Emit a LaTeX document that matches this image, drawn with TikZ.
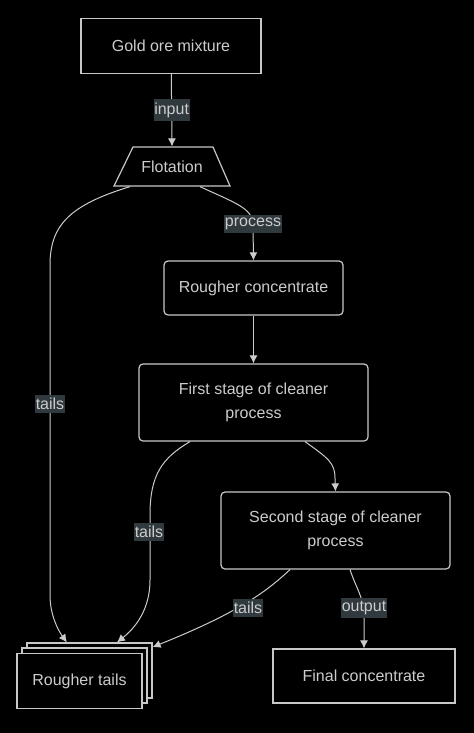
\documentclass[tikz,border=0pt]{standalone}
\usepackage{fontspec}
\setmainfont{Liberation Sans}
\usetikzlibrary{shapes.geometric,arrows.meta}
\definecolor{fg}{RGB}{204,204,204}
\definecolor{bd}{RGB}{200,200,200}
\definecolor{labbg}{RGB}{47,57,62}
\tikzset{
  box/.style={draw=bd, line width=0.9pt, text=fg, font=\fontsize{12}{18}\selectfont, align=center, inner sep=0pt},
  rbox/.style={box, rounded corners=3pt},
  edge/.style={draw=fg, line width=0.75pt, -{Latex[length=6pt,width=6pt]}},
  lab/.style={fill=labbg, text=fg, font=\fontsize{12}{14}\selectfont, inner xsep=0.5pt, inner ysep=2.5pt},
}
\begin{document}
\begin{tikzpicture}[x=0.75pt,y=-0.75pt]
\fill[black] (0,0) rectangle (474,733);
\useasboundingbox (0,0) rectangle (474,733);

\node[box, minimum width=135pt, minimum height=41.25pt] (gold) at (171,46) {Gold ore mixture};
\draw[draw=bd, line width=0.9pt] (133,147) -- (213,147) -- (230,186) -- (114,186) -- cycle;
\node[box, draw=none, minimum width=87pt, minimum height=29.25pt] (flot) at (172,166.5) {Flotation};
\node[rbox, minimum width=134.25pt, minimum height=40.5pt] (rc) at (253.5,288) {Rougher concentrate};
\node[rbox, minimum width=171.75pt, minimum height=57.75pt] (first) at (253.5,402.5) {First stage of cleaner\\process};
\node[rbox, minimum width=171.75pt, minimum height=57.75pt] (second) at (335.5,530.5) {Second stage of cleaner\\process};
\node[box, fill=black, minimum width=93.75pt, minimum height=41.25pt] (rt3) at (89.5,670.5) {};
\node[box, fill=black, minimum width=93.75pt, minimum height=41.25pt] (rt2) at (84.5,675.5) {};
\node[box, fill=black, minimum width=93.75pt, minimum height=41.25pt] (rt) at (79.5,681) {Rougher tails};
\node[box, minimum width=136.5pt, minimum height=40.5pt] (final) at (364,676) {Final concentrate};

\draw[edge] (gold) -- node[lab]{input} (flot.north);
\draw[edge] ([xshift=21pt]flot.south) .. controls (235,203) and (253,208) .. (253,225) -- (rc.north)
  node[lab] at (253,224) {process};
\draw[edge] ([xshift=-31.5pt]flot.south) .. controls (70,205) and (50,225) .. (50,265) -- (50,595)
  .. controls (50,615) and (58,630) .. ([xshift=-17pt]rt3.north)
  node[lab] at (50,404) {tails};
\draw[edge] (rc) -- (first);
\draw[edge] ([xshift=38.6pt]first.south) .. controls (328,458) and (335,463) .. (335,478) -- (second.north);
\draw[edge] ([xshift=-47.6pt]first.south) .. controls (162,458) and (150,475) .. (150,515) -- (150,580)
  .. controls (150,610) and (135,628) .. ([xshift=20.6pt]rt3.north)
  node[lab] at (149,532) {tails};
\draw[edge] ([xshift=-34.1pt]second.south) .. controls (270,588) and (245,610) .. ([yshift=-3.5pt]rt3.north east)
  node[lab] at (248,608) {tails};
\draw[edge] ([xshift=10.9pt]second.south) .. controls (356,588) and (364,598) .. (364,615) -- (final.north)
  node[lab] at (364,608) {output};
\end{tikzpicture}
\end{document}
